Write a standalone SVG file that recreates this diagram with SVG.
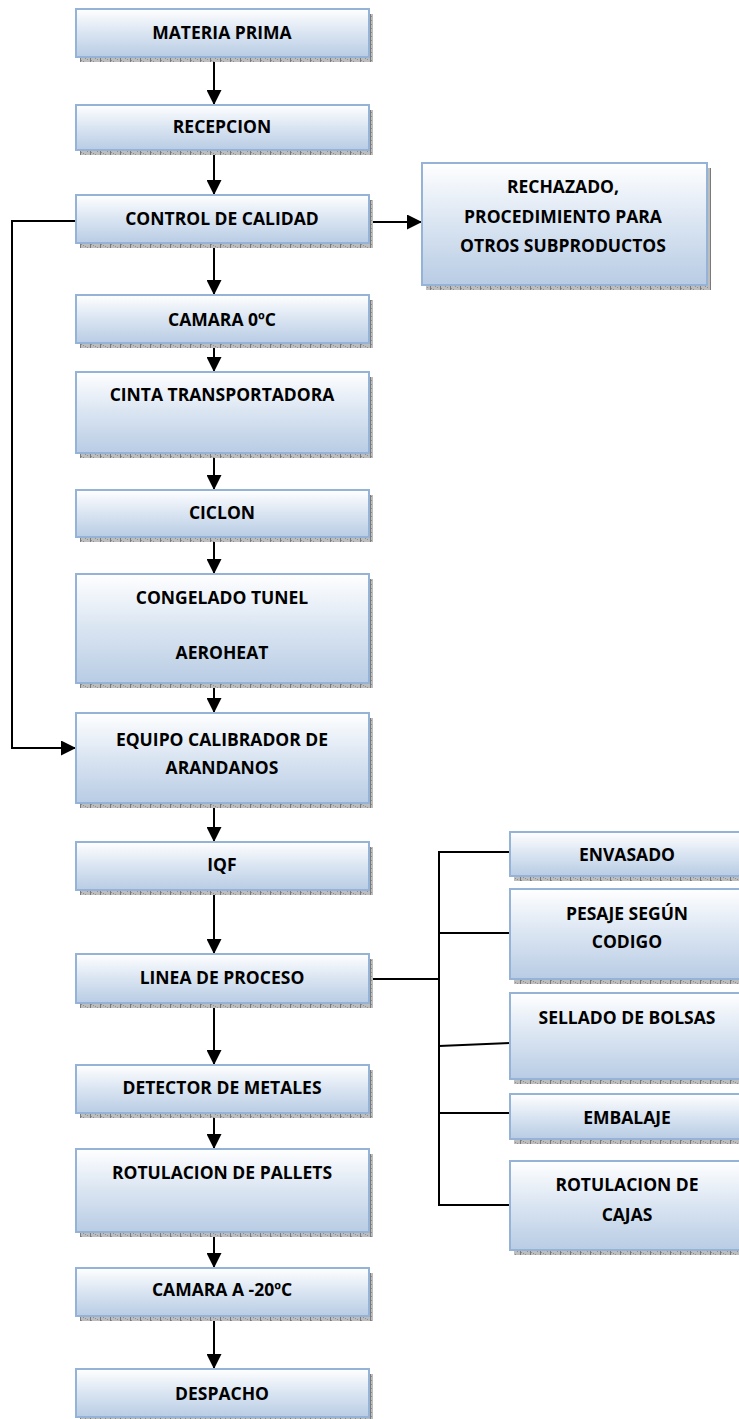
<svg xmlns="http://www.w3.org/2000/svg" width="739" height="1419" viewBox="0 0 739 1419">
  <defs>
    <linearGradient id="boxFill" x1="0" y1="0" x2="0" y2="1">
      <stop offset="0" stop-color="#ffffff"/>
      <stop offset="0.45" stop-color="#dde7f3"/>
      <stop offset="1" stop-color="#b8cce4"/>
    </linearGradient>
    <pattern id="shadowTex" width="10" height="4" patternUnits="userSpaceOnUse">
      <rect width="10" height="4" fill="#bdbdbd"/>
      <rect x="1" y="0" width="1" height="1" fill="#8f8f8f"/>
      <rect x="3" y="1" width="1" height="1" fill="#8f8f8f"/>
      <rect x="5" y="2" width="1" height="1" fill="#8f8f8f"/>
      <rect x="7" y="3" width="1" height="1" fill="#8f8f8f"/>
      <rect x="0" y="0" width="1" height="4" fill="#7a7a7a"/>
    </pattern>
    <marker id="arrow" viewBox="0 0 10 10" refX="10" refY="5" markerWidth="15" markerHeight="15" markerUnits="userSpaceOnUse" orient="auto">
      <path d="M0,0 L10,5 L0,10 Z" fill="#000"/>
    </marker>
  </defs>
  <style>
    .shadow { fill: url(#shadowTex); }
    .box { fill: url(#boxFill); stroke: #95b3d7; stroke-width: 2; }
    .lbl { font-family: "Open Sans", "Noto Sans", "Liberation Sans", sans-serif; font-weight: bold; font-size: 17.5px; fill: #000; text-anchor: middle; dominant-baseline: central; }
    .wire { fill: none; stroke: #000; stroke-width: 2; }
    .arr { fill: none; stroke: #000; stroke-width: 2; marker-end: url(#arrow); }
  </style>

  <g id="connectors">
    <line class="arr" x1="214" y1="57" x2="214" y2="105"/>
    <line class="arr" x1="214" y1="150" x2="214" y2="195"/>
    <line class="arr" x1="214" y1="243" x2="214" y2="295"/>
    <line class="arr" x1="214" y1="343" x2="214" y2="372"/>
    <line class="arr" x1="214" y1="453" x2="214" y2="490"/>
    <line class="arr" x1="214" y1="537" x2="214" y2="574"/>
    <line class="arr" x1="214" y1="683" x2="214" y2="713"/>
    <line class="arr" x1="214" y1="803" x2="214" y2="842"/>
    <line class="arr" x1="214" y1="890" x2="214" y2="954"/>
    <line class="arr" x1="214" y1="1003" x2="214" y2="1065"/>
    <line class="arr" x1="214" y1="1113" x2="214" y2="1149"/>
    <line class="arr" x1="214" y1="1232" x2="214" y2="1268"/>
    <line class="arr" x1="214" y1="1316" x2="214" y2="1369"/>
    <!-- rejected branch -->
    <line class="arr" x1="369" y1="222" x2="422" y2="222"/>
    <!-- bypass loop from quality control to calibrator -->
    <polyline class="arr" points="76,221 12,221 12,748 76,748"/>
    <!-- process line branches -->
    <line class="wire" x1="369" y1="979" x2="439" y2="979"/>
    <line class="wire" x1="439" y1="851" x2="439" y2="1206"/>
    <line class="wire" x1="439" y1="852" x2="510" y2="852"/>
    <line class="wire" x1="439" y1="933" x2="510" y2="933"/>
    <line class="wire" x1="439" y1="1046" x2="510" y2="1043"/>
    <line class="wire" x1="439" y1="1113" x2="510" y2="1113"/>
    <line class="wire" x1="438" y1="1205" x2="510" y2="1205"/>
  </g>

  <g id="materia-prima">
    <rect class="shadow" x="80" y="14" width="293" height="48"/>
    <rect class="box" x="76" y="9" width="293" height="48"/>
    <text class="lbl" x="222" y="32">MATERIA PRIMA</text>
  </g>
  <g id="recepcion">
    <rect class="shadow" x="80" y="110" width="293" height="45"/>
    <rect class="box" x="76" y="105" width="293" height="45"/>
    <text class="lbl" x="222" y="126">RECEPCION</text>
  </g>
  <g id="control-calidad">
    <rect class="shadow" x="80" y="200" width="293" height="48"/>
    <rect class="box" x="76" y="195" width="293" height="48"/>
    <text class="lbl" x="222" y="218">CONTROL DE CALIDAD</text>
  </g>
  <g id="rechazado">
    <rect class="shadow" x="426" y="168" width="285" height="122"/>
    <rect class="box" x="422" y="163" width="285" height="122"/>
    <text class="lbl" x="563" y="186">RECHAZADO,</text>
    <text class="lbl" x="563" y="216">PROCEDIMIENTO PARA</text>
    <text class="lbl" x="563" y="245">OTROS SUBPRODUCTOS</text>
  </g>
  <g id="camara-0">
    <rect class="shadow" x="80" y="300" width="293" height="48"/>
    <rect class="box" x="76" y="295" width="293" height="48"/>
    <text class="lbl" x="222" y="319">CAMARA 0ºC</text>
  </g>
  <g id="cinta">
    <rect class="shadow" x="80" y="377" width="293" height="81"/>
    <rect class="box" x="76" y="372" width="293" height="81"/>
    <text class="lbl" x="222" y="394">CINTA TRANSPORTADORA</text>
  </g>
  <g id="ciclon">
    <rect class="shadow" x="80" y="495" width="293" height="47"/>
    <rect class="box" x="76" y="490" width="293" height="47"/>
    <text class="lbl" x="222" y="512">CICLON</text>
  </g>
  <g id="congelado">
    <rect class="shadow" x="80" y="579" width="293" height="109"/>
    <rect class="box" x="76" y="574" width="293" height="109"/>
    <text class="lbl" x="222" y="597">CONGELADO TUNEL</text>
    <text class="lbl" x="222" y="652">AEROHEAT</text>
  </g>
  <g id="calibrador">
    <rect class="shadow" x="80" y="718" width="293" height="90"/>
    <rect class="box" x="76" y="713" width="293" height="90"/>
    <text class="lbl" x="222" y="739">EQUIPO CALIBRADOR DE</text>
    <text class="lbl" x="222" y="767">ARANDANOS</text>
  </g>
  <g id="iqf">
    <rect class="shadow" x="80" y="847" width="293" height="48"/>
    <rect class="box" x="76" y="842" width="293" height="48"/>
    <text class="lbl" x="222" y="864">IQF</text>
  </g>
  <g id="linea-proceso">
    <rect class="shadow" x="80" y="959" width="293" height="49"/>
    <rect class="box" x="76" y="954" width="293" height="49"/>
    <text class="lbl" x="222" y="977">LINEA DE PROCESO</text>
  </g>
  <g id="detector">
    <rect class="shadow" x="80" y="1070" width="293" height="48"/>
    <rect class="box" x="76" y="1065" width="293" height="48"/>
    <text class="lbl" x="222" y="1087">DETECTOR DE METALES</text>
  </g>
  <g id="rotulacion-pallets">
    <rect class="shadow" x="80" y="1154" width="293" height="83"/>
    <rect class="box" x="76" y="1149" width="293" height="83"/>
    <text class="lbl" x="222" y="1172">ROTULACION DE PALLETS</text>
  </g>
  <g id="camara-20">
    <rect class="shadow" x="80" y="1273" width="293" height="48"/>
    <rect class="box" x="76" y="1268" width="293" height="48"/>
    <text class="lbl" x="222" y="1289">CAMARA A -20ºC</text>
  </g>
  <g id="despacho">
    <rect class="shadow" x="80" y="1374" width="293" height="48"/>
    <rect class="box" x="76" y="1369" width="293" height="48"/>
    <text class="lbl" x="222" y="1393">DESPACHO</text>
  </g>

  <g id="envasado">
    <rect class="shadow" x="514" y="837" width="234" height="44"/>
    <rect class="box" x="510" y="832" width="234" height="44"/>
    <text class="lbl" x="627" y="854">ENVASADO</text>
  </g>
  <g id="pesaje">
    <rect class="shadow" x="514" y="894" width="234" height="90"/>
    <rect class="box" x="510" y="889" width="234" height="90"/>
    <text class="lbl" x="627" y="913">PESAJE SEGÚN</text>
    <text class="lbl" x="627" y="941">CODIGO</text>
  </g>
  <g id="sellado">
    <rect class="shadow" x="514" y="998" width="234" height="86"/>
    <rect class="box" x="510" y="993" width="234" height="86"/>
    <text class="lbl" x="627" y="1017">SELLADO DE BOLSAS</text>
  </g>
  <g id="embalaje">
    <rect class="shadow" x="514" y="1099" width="234" height="45"/>
    <rect class="box" x="510" y="1094" width="234" height="45"/>
    <text class="lbl" x="627" y="1117">EMBALAJE</text>
  </g>
  <g id="rotulacion-cajas">
    <rect class="shadow" x="514" y="1166" width="234" height="89"/>
    <rect class="box" x="510" y="1161" width="234" height="89"/>
    <text class="lbl" x="627" y="1184">ROTULACION DE</text>
    <text class="lbl" x="627" y="1214">CAJAS</text>
  </g>
</svg>
